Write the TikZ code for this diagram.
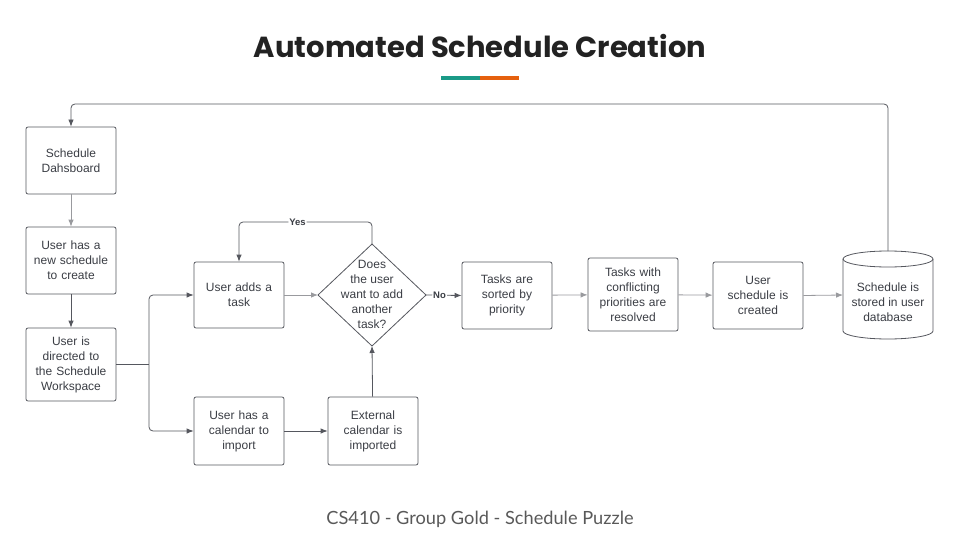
\documentclass[tikz,border=0pt]{standalone}
\usepackage{fontspec}
\setmainfont{Liberation Sans}
\newfontfamily\titlefont{Poppins}
\newfontfamily\footfont{Lato}
\usetikzlibrary{shapes.geometric,arrows.meta}
\definecolor{edge}{HTML}{55575E}
\definecolor{txt}{HTML}{3A3D44}
\definecolor{teal}{HTML}{1A9A87}
\definecolor{orng}{HTML}{E5600E}
\definecolor{foot}{HTML}{595959}
\tikzset{
  box/.style={draw=edge, line width=0.8pt, rounded corners=2pt, minimum width=90pt, minimum height=67pt,
    align=center, text=txt, font=\fontsize{12}{15}\selectfont, inner sep=2pt, text width=86pt},
  plain/.style={align=center, text=txt, font=\fontsize{12}{15}\selectfont, inner sep=0pt},
  conn/.style={draw=edge, line width=0.8pt, -{Latex[length=7pt,width=5.5pt]}, rounded corners=4pt},
  lbl/.style={font=\bfseries\fontsize{9.5}{11}\selectfont, text=txt, fill=white, inner sep=1pt},
}
\begin{document}
\begin{tikzpicture}[x=1pt,y=-1pt]
\useasboundingbox (0,0) rectangle (960,540);
% title
\node (title) at (480,46) {\titlefont\bfseries\fontsize{29}{34}\selectfont\color[HTML]{222222}Automated Schedule Creation};
\fill[teal] (441,76) rectangle (480,80);
\fill[orng] (480,76) rectangle (519,80);
% nodes
\node[box] (dash) at (71,160.5) {Schedule\\Dahsboard};
\node[box] (new) at (71,260.5) {User has a\\new schedule\\to create};
\node[box, minimum height=73pt] (dir) at (71,364.5) {User is\\directed to\\the Schedule\\Workspace};
\node[box, minimum height=66pt] (add) at (239,295) {User adds a\\task};
\node[box, minimum height=68pt] (cal) at (239,431) {User has a\\calendar to\\import};
% decision diamond
\coordinate (qn) at (372,244);
\coordinate (qs) at (372,346);
\coordinate (qw) at (318,295);
\coordinate (qe) at (426,295);
\draw[edge, line width=0.8pt, line join=round] (qn) -- (qe) -- (qs) -- (qw) -- cycle;
\node[plain] (q) at (372,294) {Does\\the user\\want to add\\another\\task?};
\node[box, minimum height=68pt] (ext) at (373,431) {External\\calendar is\\imported};
\node[box] (sort) at (507,295.5) {Tasks are\\sorted by\\priority};
\node[box, minimum height=73pt] (conf) at (633,294.5) {Tasks with\\conflicting\\priorities are\\resolved};
\node[box] (made) at (758,295.5) {User\\schedule is\\created};
% cylinder
\draw[edge, line width=0.8pt, fill=white] (843,259) -- (843,331) arc[start angle=180, end angle=0, x radius=45, y radius=8] -- (933,259);
\draw[edge, line width=0.8pt] (888,259) ellipse[x radius=45, y radius=8];
\coordinate (dbw) at (843,295);
\coordinate (dbn) at (888,251);
\node[plain] (db) at (888,302) {Schedule is\\stored in user\\database};
% split point
\coordinate (sp) at (149,364.5);
% connectors
\draw[conn, draw=edge!60] (dash) -- (new);
\draw[conn] (new) -- (dir);
\draw[draw=edge, line width=0.8pt] (dir.east) -- (sp);
\draw[conn] (sp) |- (add.west);
\draw[conn] (sp) |- (cal.west);
\draw[conn, draw=edge!60] (add.east) -- (qw);
\draw[conn] (cal) -- (ext);
\draw[conn] (ext) -- (qs);
\draw[conn] (qn) -- ++(0,-22) -| node[lbl, pos=0.28] {Yes} (add.north);
\draw[conn] (qe) -- node[lbl, pos=0.38] {No} (sort.west);
\draw[conn, draw=edge!60] (sort) -- (conf);
\draw[conn, draw=edge!60] (conf) -- (made);
\draw[conn, draw=edge!60] (made.east) -- (dbw);
\draw[conn] (dbn) -- (888,104) -| (dash.north);
% footer
\node (footer) at (480,519) {\footfont\fontsize{18.2}{22}\selectfont\color{foot}CS410 - Group Gold - Schedule Puzzle};
\end{tikzpicture}
\end{document}
